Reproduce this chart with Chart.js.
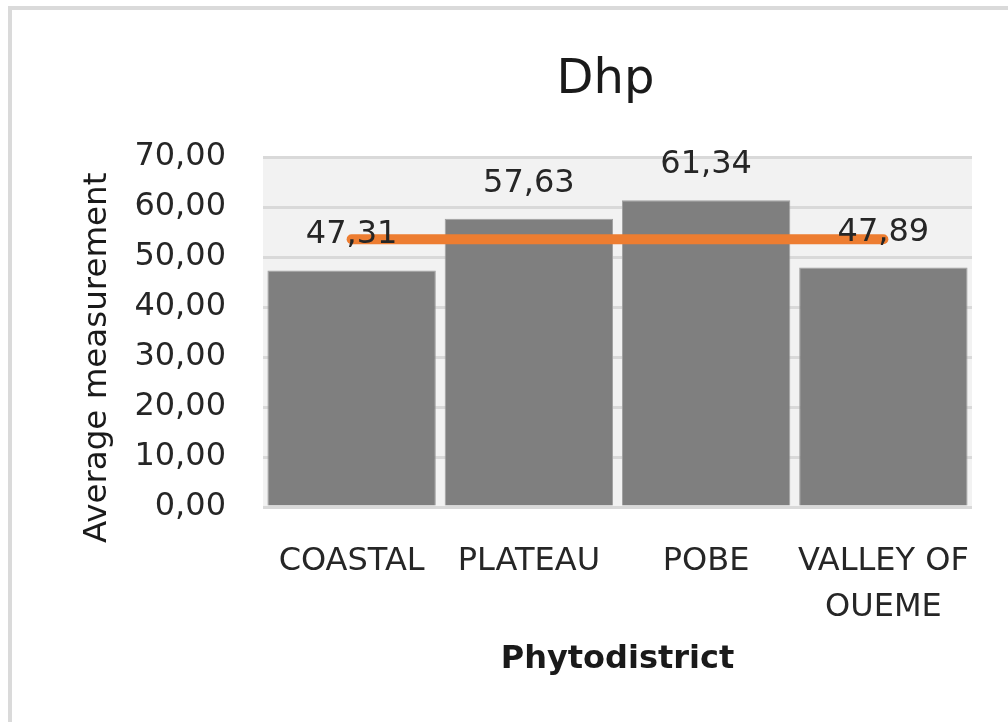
<!DOCTYPE html>
<html lang="en">
<head>
    <meta charset="UTF-8">
    <title>Dhp</title>
    <style>
        * {
            margin: 0;
            padding: 0;
            box-sizing: border-box;
        }

        body {
            background: #fff;
            width: 1008px;
            height: 722px;
            overflow: hidden;
            position: relative;
        }

        /* grey frame, only top and left edges show in the window */
        .frame {
            position: absolute;
            left: 8px;
            top: 6px;
            width: 1100px;
            height: 800px;
            border: 4px solid #dadada;
        }

        #chart {
            position: absolute;
            left: 0;
            top: 0;
        }
    </style>
    <script src="https://cdn.jsdelivr.net/npm/chart.js"></script>
</head>
<body>
    <div class="frame"></div>
    <canvas id="chart" width="1008" height="722"></canvas>
    <script>
        // Data
        const categories = [['COASTAL'], ['PLATEAU'], ['POBE'], ['VALLEY OF', 'OUEME']];
        const dhpValues = [47.31, 57.63, 61.34, 47.89];
        const meanLine = [53.54, 53.54, 53.54, 53.54];
        const yTicks = [0, 10, 20, 30, 40, 50, 60, 70];

        const textColor = '#262626';
        const fontFamily = "'DejaVu Sans', sans-serif";

        // comma as decimal separator
        const fmt = v => v.toFixed(2).replace('.', ',');

        Chart.defaults.font.family = fontFamily;
        Chart.defaults.color = textColor;

        // light grey plot background
        const plotBackground = {
            id: 'plotBackground',
            beforeDraw(chart) {
                const { ctx, chartArea: a } = chart;
                ctx.save();
                ctx.fillStyle = '#f2f2f2';
                ctx.fillRect(a.left, a.top, a.right - a.left, a.bottom - a.top);
                ctx.restore();
            }
        };

        // value labels above the bars + chart title
        const barLabels = {
            id: 'barLabels',
            afterDatasetsDraw(chart) {
                const { ctx, chartArea: a } = chart;
                const meta = chart.getDatasetMeta(0);
                ctx.save();
                ctx.fillStyle = textColor;
                ctx.font = '32px ' + fontFamily;
                ctx.textAlign = 'center';
                ctx.textBaseline = 'alphabetic';
                meta.data.forEach((bar, i) => {
                    ctx.fillText(fmt(dhpValues[i]), bar.x, bar.y - 27);
                });

                ctx.fillStyle = '#1a1a1a';
                ctx.font = '48px ' + fontFamily;
                ctx.fillText('Dhp', (a.left + a.right) / 2 - 12, 93);
                ctx.restore();
            }
        };

        new Chart(document.getElementById('chart'), {
            data: {
                labels: categories,
                datasets: [{
                    type: 'bar',
                    label: 'Dhp',
                    data: dhpValues,
                    backgroundColor: '#7f7f7f',
                    borderColor: '#a0a0a0',
                    borderWidth: 1,
                    barPercentage: 0.95,
                    categoryPercentage: 1.0,
                    order: 2
                }, {
                    type: 'line',
                    label: 'Mean',
                    data: meanLine,
                    borderColor: '#ed7d31',
                    borderWidth: 10,
                    borderCapStyle: 'round',
                    pointRadius: 0,
                    tension: 0,
                    order: 1
                }]
            },
            options: {
                responsive: false,
                animation: false,
                devicePixelRatio: 1,
                layout: {
                    padding: { top: 157, right: 36, left: 0, bottom: 0 }
                },
                plugins: {
                    legend: { display: false },
                    tooltip: { enabled: false },
                    title: { display: false }
                },
                scales: {
                    x: {
                        grid: { display: false },
                        border: { display: false },
                        ticks: {
                            font: { size: 32, lineHeight: 1.45 },
                            padding: 23,
                            maxRotation: 0,
                            autoSkip: false
                        },
                        title: {
                            display: true,
                            text: 'Phytodistrict',
                            font: { size: 32, weight: 'bold' },
                            color: '#1a1a1a',
                            padding: { top: 0, bottom: 43 }
                        },
                        afterFit(scale) {
                            scale.height = 215;
                        }
                    },
                    y: {
                        min: 0,
                        max: 70,
                        afterBuildTicks(scale) {
                            scale.ticks = yTicks.map(v => ({ value: v }));
                        },
                        grid: {
                            color: '#d9d9d9',
                            lineWidth: 3,
                            drawTicks: false
                        },
                        border: { display: false },
                        ticks: {
                            font: { size: 32 },
                            padding: 37,
                            callback: v => fmt(v)
                        },
                        title: {
                            display: true,
                            text: 'Average measurement     ',
                            font: { size: 32.5 },
                            color: '#1a1a1a',
                            padding: { top: 78, bottom: 0 }
                        },
                        afterFit(scale) {
                            scale.width = 263;
                        }
                    }
                }
            },
            plugins: [plotBackground, barLabels]
        });
    </script>
</body>
</html>
